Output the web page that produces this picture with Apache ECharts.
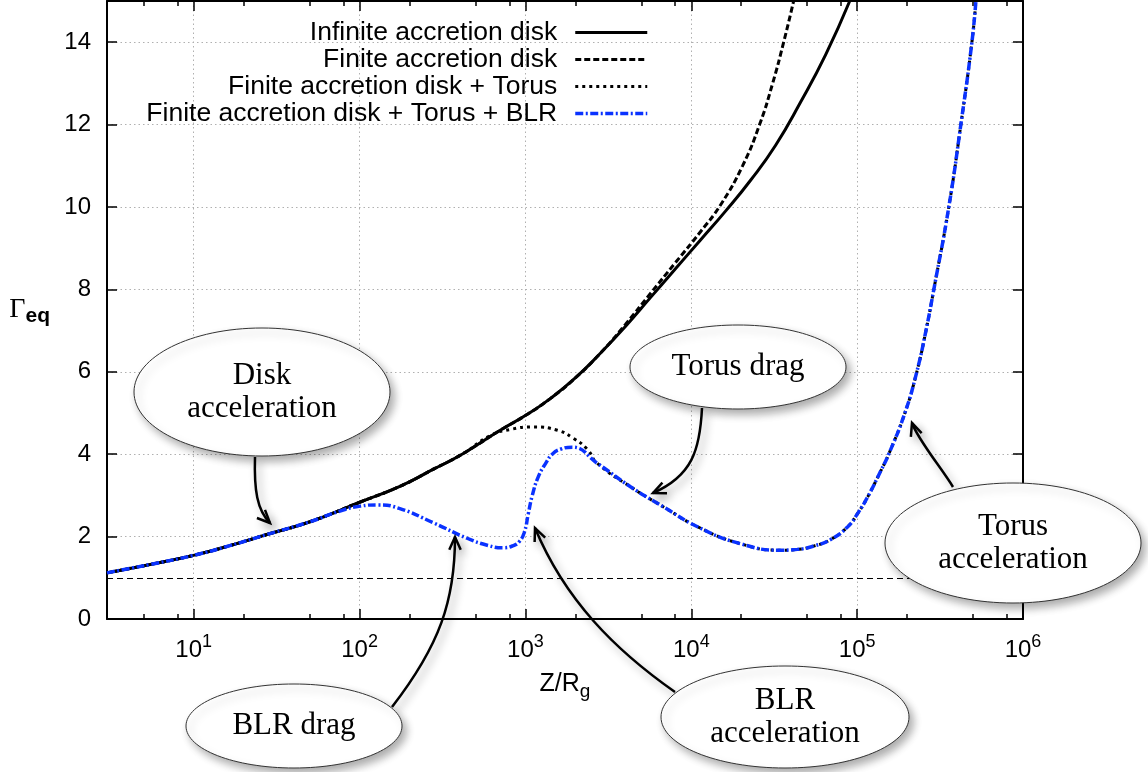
<!DOCTYPE html>
<html>
<head>
<meta charset="utf-8">
<title>Gamma_eq vs Z/Rg</title>
<script src="https://cdn.jsdelivr.net/npm/echarts@6/dist/echarts.min.js"></script>
<style>
  html, body { margin: 0; padding: 0; background: #fff; }
  #main { width: 1148px; height: 772px; }
</style>
</head>
<body>
<div id="main"></div>
<script>
// values (Z/Rg , Gamma_eq)
var infZ = [3, 4.28, 5.42, 10.1, 16.5, 27.6, 50.2, 101, 175, 277, 415, 704, 1010, 1412, 1999, 2830, 4006, 5670, 8027, 11365, 16085, 22780, 32250, 45640, 64620, 90230];
var infG = [1.12, 1.24, 1.32, 1.55, 1.78, 2.05, 2.36, 2.84, 3.22, 3.63, 4.0, 4.58, 4.95, 5.35, 5.85, 6.45, 7.1, 7.8, 8.5, 9.2, 9.9, 10.65, 11.5, 12.55, 13.7, 15.0];

var finZ = [3, 4.28, 5.42, 10.1, 16.5, 27.6, 50.2, 101, 175, 277, 415, 704, 1010, 1412, 1999, 2830, 4006, 5670, 8027, 11365, 15010, 20380, 25810, 30930, 36050, 41410];
var finG = [1.12, 1.24, 1.32, 1.55, 1.78, 2.05, 2.36, 2.84, 3.22, 3.63, 4.0, 4.58, 4.95, 5.35, 5.85, 6.45, 7.15, 7.9, 8.65, 9.4, 10.05, 11.0, 12.0, 13.0, 14.0, 15.0];

var torZ = [3, 4.28, 5.42, 10.1, 16.5, 27.6, 50.2, 101, 175, 277, 415, 613, 809, 1120, 1560, 1940, 2360,
            2710, 4300, 6800, 10900, 19300, 34600, 43500, 54700, 69300, 87800, 101000, 116000, 139000, 155000, 194000, 229000, 260000, 290000, 357000, 422000, 492000, 520000];
var torG = [1.12, 1.24, 1.32, 1.55, 1.78, 2.05, 2.36, 2.84, 3.22, 3.63, 4.0, 4.45, 4.60, 4.66, 4.58, 4.39, 4.12,
            3.78, 3.21, 2.72, 2.24, 1.84, 1.67, 1.69, 1.77, 1.93, 2.24, 2.57, 2.97, 3.6, 4.0, 5.0, 6.0, 7.0, 8.0, 10.0, 12.0, 14.0, 15.0];

var blrZ = [3, 4.28, 5.42, 10.1, 16.5, 27.6, 50.2, 76.1, 101, 129, 175, 277, 445, 588, 734, 844, 918, 984, 1040, 1100, 1195, 1335, 1451, 1623, 1917,
            2710, 4300, 6800, 10900, 19300, 34600, 43500, 54700, 69300, 87800, 101000, 116000, 139000, 155000, 194000, 229000, 260000, 290000, 357000, 422000, 492000, 520000];
var blrG = [1.12, 1.24, 1.32, 1.55, 1.78, 2.05, 2.36, 2.62, 2.74, 2.77, 2.68, 2.34, 1.96, 1.79, 1.73, 1.78, 1.88, 2.1, 2.55, 3.0, 3.45, 3.8, 4.0, 4.12, 4.17,
            3.78, 3.21, 2.72, 2.24, 1.84, 1.67, 1.69, 1.77, 1.93, 2.24, 2.57, 2.97, 3.6, 4.0, 5.0, 6.0, 7.0, 8.0, 10.0, 12.0, 14.0, 15.0];

var names = ['Infinite accretion disk', 'Finite accretion disk', 'Finite accretion disk + Torus', 'Finite accretion disk + Torus + BLR'];
var decadeTicks = [10, 100, 1000, 10000, 100000, 1000000];
var minorTicks = [5, 8, 20, 50, 80, 200, 500, 800, 2000, 5000, 8000, 20000, 50000, 80000, 200000, 500000, 800000];
var yTicks = [0, 2, 4, 6, 8, 10, 12, 14];

function pairs(xs, ys) {
    var out = [];
    for (var i = 0; i < xs.length; i++) out.push([xs[i], ys[i]]);
    return out;
}

var SANS = '"Liberation Sans", Arial, sans-serif';
var SERIF = '"Liberation Serif", "Times New Roman", serif';

function logAxis(pos, major, showLine, showLabel) {
    return {
        type: 'log', logBase: 10, min: 3, max: 1000000, position: pos,
        axisLine: { show: showLine, onZero: false, lineStyle: { color: '#000', width: 2 } },
        axisTick: { show: true, inside: true, length: major ? 10 : 5, customValues: major ? decadeTicks : minorTicks,
                    lineStyle: { color: '#000', width: 1.5 } },
        axisLabel: { show: showLabel },
        splitLine: { show: false },
        minorTick: { show: false }
    };
}

var xMain = logAxis('bottom', true, true, true);
xMain.axisLabel = {
    show: true, customValues: decadeTicks, margin: 14, color: '#000',
    formatter: function (v) { return '{b|10}{s|' + Math.round(Math.log10(v)) + '}'; },
    rich: {
        b: { fontFamily: SANS, fontSize: 24, lineHeight: 34, color: '#000' },
        s: { fontFamily: SANS, fontSize: 18, lineHeight: 18, verticalAlign: 'top', color: '#000' }
    }
};
xMain.splitLine = { show: true, lineStyle: { color: '#b0b0b0', width: 1, type: [1.5, 3] } };
xMain.name = '{m|Z/R}{s|g}';
xMain.nameLocation = 'middle';
xMain.nameGap = 48;
xMain.nameMoveOverlap = false;
xMain.nameTextStyle = {
    rich: {
        m: { fontFamily: SANS, fontSize: 25, lineHeight: 34, color: '#000' },
        s: { fontFamily: SANS, fontSize: 19, lineHeight: 18, verticalAlign: 'bottom', color: '#000' }
    }
};

function yAxisDef(pos, labels) {
    return {
        type: 'value', min: 0, max: 15, position: pos,
        axisLine: { show: true, onZero: false, lineStyle: { color: '#000', width: 2 } },
        axisTick: { show: true, inside: true, length: 10, customValues: yTicks, lineStyle: { color: '#000', width: 1.5 } },
        axisLabel: { show: labels, customValues: yTicks, margin: 16, color: '#000', fontFamily: SANS, fontSize: 24 },
        splitLine: { show: labels, lineStyle: { color: '#b0b0b0', width: 1, type: [1.5, 3] } }
    };
}
var yMain = yAxisDef('left', true);
yMain.name = '{g|Γ}{e|eq}';
yMain.nameLocation = 'middle';
yMain.nameRotate = 0;
yMain.nameGap = 57;
yMain.nameMoveOverlap = false;
yMain.nameTextStyle = {
    rich: {
        g: { fontFamily: SERIF, fontSize: 28, lineHeight: 34, color: '#000' },
        e: { fontFamily: SANS, fontSize: 21, fontWeight: 'bold', lineHeight: 22, verticalAlign: 'bottom', color: '#000' }
    }
};

// callouts
var shadow = { shadowBlur: 9, shadowOffsetX: 4, shadowOffsetY: 5, shadowColor: 'rgba(0,0,0,0.33)' };
function bubble(cx, cy, rx, ry, text) {
    return [
        { type: 'ellipse', z: 100, shape: { cx: cx, cy: cy, rx: rx, ry: ry },
          style: Object.assign({ fill: '#fff', stroke: '#333', lineWidth: 1 }, shadow) },
        { type: 'text', z: 101,
          style: { text: text, x: cx, y: cy, font: '31px ' + SERIF, fontSize: 31, fontFamily: SERIF,
                   fill: '#000', align: 'center', verticalAlign: 'middle',
                   textAlign: 'center', textVerticalAlign: 'middle', lineHeight: 33 } }
    ];
}
function arrow(p0, c1, c2, p3) {
    var ang = Math.atan2(p3[1] - c2[1], p3[0] - c2[0]);
    var len = 14, spread = 0.42;
    var w1 = [p3[0] - len * Math.cos(ang - spread), p3[1] - len * Math.sin(ang - spread)];
    var w2 = [p3[0] - len * Math.cos(ang + spread), p3[1] - len * Math.sin(ang + spread)];
    return [
        { type: 'bezierCurve', z: 99,
          shape: { x1: p0[0], y1: p0[1], cpx1: c1[0], cpy1: c1[1], cpx2: c2[0], cpy2: c2[1], x2: p3[0], y2: p3[1] },
          style: Object.assign({ stroke: '#000', lineWidth: 2.5, fill: null }, shadow) },
        { type: 'polyline', z: 99, shape: { points: [w1, p3, w2] },
          style: Object.assign({ stroke: '#000', lineWidth: 2.5, fill: null, lineJoin: 'miter' }, shadow) }
    ];
}

var graphics = [].concat(
    arrow([255, 457], [254, 490], [257, 510], [270, 523]),
    arrow([702, 408], [700, 450], [692, 476], [653, 493]),
    arrow([953, 487], [943, 470], [918, 440], [912, 423]),
    arrow([392, 707], [440, 645], [455, 600], [455, 537]),
    arrow([675, 692], [615, 650], [565, 600], [535, 528]),
    bubble(262, 392, 128, 64, 'Disk\nacceleration'),
    bubble(738, 367, 108, 42, 'Torus drag'),
    bubble(1013, 543, 128, 60, 'Torus\nacceleration'),
    bubble(294, 726, 108, 42, 'BLR drag'),
    bubble(785, 717, 124, 51, 'BLR\nacceleration')
);

var chart = echarts.init(document.getElementById('main'), null, { renderer: 'canvas' });
chart.setOption({
    animation: false,
    backgroundColor: '#fff',
    grid: { left: 107, right: 125, top: 1, bottom: 153, containLabel: false, outerBoundsMode: 'none' },
    legend: {
        orient: 'vertical', right: 494, top: 14, align: 'right',
        itemWidth: 72, itemHeight: 14, itemGap: 0, padding: 5, selectedMode: false,
        itemStyle: { opacity: 0, borderWidth: 0 },
        lineStyle: { width: 'inherit', type: 'inherit' },
        textStyle: { fontFamily: SANS, fontSize: 26.5, color: '#000', lineHeight: 27, padding: [0, 13, 0, 0] },
        data: names
    },
    xAxis: [
        xMain,
        logAxis('bottom', false, false, false),
        logAxis('top', true, true, false),
        logAxis('top', false, false, false)
    ],
    yAxis: [yMain, yAxisDef('right', false)],
    series: [
        { name: names[0], type: 'line', data: pairs(infZ, infG), symbol: 'none', smooth: 0.5, z: 3,
          itemStyle: { color: '#000' },
          lineStyle: { color: '#000', width: 3, type: 'solid' },
          markLine: { silent: true, symbol: 'none', label: { show: false },
                      lineStyle: { color: '#000', width: 1.2, type: [6, 4] }, data: [{ yAxis: 1 }] } },
        { name: names[1], type: 'line', data: pairs(finZ, finG), symbol: 'none', smooth: 0.5, z: 3,
          itemStyle: { color: '#000' },
          lineStyle: { color: '#000', width: 3, type: [6, 3], cap: 'butt' } },
        { name: names[2], type: 'line', data: pairs(torZ, torG), symbol: 'none', smooth: 0.5, z: 4,
          itemStyle: { color: '#000' },
          lineStyle: { color: '#000', width: 3, type: [3, 4], cap: 'butt' } },
        { name: names[3], type: 'line', data: pairs(blrZ, blrG), symbol: 'none', smooth: 0.5, z: 5,
          itemStyle: { color: '#0a32ff' },
          lineStyle: { color: '#0a32ff', width: 3.5, type: [8, 2.5, 2, 2.5], cap: 'butt' } }
    ],
    graphic: graphics
});
</script>
</body>
</html>
